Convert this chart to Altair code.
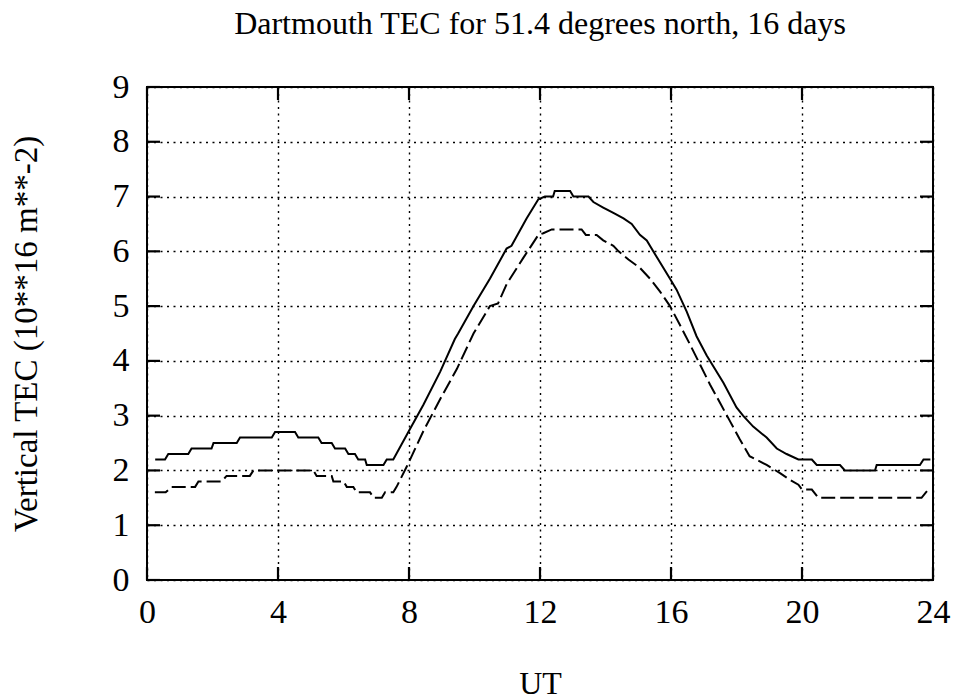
import altair as alt
import pandas as pd

# Solid curve (UT hours, TEC)
solid_ut = [0.25, 0.55, 0.65, 1.26, 1.36, 1.97, 2.03, 2.74, 2.84, 3.81, 3.91, 4.52, 4.62, 5.23,
            5.33, 5.64, 5.74, 6.05, 6.15, 6.35, 6.45, 6.66, 6.71, 7.22, 7.32, 7.52, 7.98, 8.44,
            8.95, 9.40, 9.50, 9.97, 10.47, 10.98, 11.13, 11.59, 11.95, 12.15, 12.40, 12.45, 12.92,
            13.02, 13.48, 13.63, 13.93, 14.24, 14.55, 14.80, 15.05, 15.26, 15.56, 15.97, 16.17,
            16.48, 16.78, 17.09, 17.60, 18.00, 18.20, 18.51, 18.92, 19.23, 19.53, 19.89, 20.30,
            20.45, 21.16, 21.31, 22.23, 22.28, 23.60, 23.71, 23.92]
solid_tec = [2.2, 2.2, 2.3, 2.3, 2.4, 2.4, 2.5, 2.5, 2.6, 2.6, 2.7, 2.7, 2.6, 2.6,
             2.5, 2.5, 2.4, 2.4, 2.3, 2.3, 2.2, 2.2, 2.1, 2.1, 2.2, 2.2, 2.7, 3.2,
             3.8, 4.4, 4.5, 5.0, 5.5, 6.05, 6.1, 6.6, 6.95, 7.0, 7.0, 7.1, 7.1,
             7.0, 7.0, 6.9, 6.8, 6.7, 6.6, 6.5, 6.3, 6.2, 5.9, 5.5, 5.3,
             4.9, 4.45, 4.1, 3.6, 3.15, 3.0, 2.8, 2.6, 2.4, 2.3, 2.2, 2.2,
             2.1, 2.1, 2.0, 2.0, 2.1, 2.1, 2.2, 2.2]

# Dashed curve (UT hours, TEC)
dashed_ut = [0.24, 0.57, 0.75, 1.47, 1.57, 2.28, 2.43, 3.14, 3.25, 5.08, 5.18, 5.64, 5.69, 6.00,
             6.10, 6.30, 6.40, 6.81, 6.92, 7.17, 7.27, 7.52, 7.62, 7.94, 8.44, 8.95, 9.46,
             9.97, 10.47, 10.72, 10.98, 11.49, 11.95, 12.10, 12.36, 13.27, 13.40, 13.73, 13.93,
             14.24, 14.40, 14.70, 15.05, 15.36, 15.66, 15.97, 16.27, 16.58, 16.89, 17.19, 17.50,
             17.80, 18.10, 18.40, 18.92, 19.33, 19.63, 19.89, 20.00, 20.30, 20.50, 23.65, 23.85]
dashed_tec = [1.6, 1.6, 1.7, 1.7, 1.8, 1.8, 1.9, 1.9, 2.0, 2.0, 1.9, 1.9, 1.8, 1.8,
              1.7, 1.7, 1.6, 1.6, 1.5, 1.5, 1.6, 1.6, 1.7, 2.08, 2.72, 3.3, 3.85,
              4.5, 5.0, 5.05, 5.4, 5.88, 6.3, 6.33, 6.4, 6.4, 6.3, 6.3, 6.2,
              6.1, 6.0, 5.85, 5.7, 5.5, 5.27, 5.0, 4.66, 4.3, 3.93, 3.57, 3.23,
              2.9, 2.57, 2.26, 2.1, 1.95, 1.83, 1.74, 1.65, 1.65, 1.5, 1.5, 1.65]

x_ticks = [0, 4, 8, 12, 16, 20, 24]
y_ticks = [0, 1, 2, 3, 4, 5, 6, 7, 8, 9]

W, H = 786, 493
FONT = "Liberation Serif"

solid = pd.DataFrame({"ut": solid_ut, "tec": solid_tec})
dashed = pd.DataFrame({"ut": dashed_ut, "tec": dashed_tec})
xt = pd.DataFrame({"ut": x_ticks})
yt = pd.DataFrame({"tec": y_ticks})

xscale = alt.Scale(domain=[0, 24], nice=False, zero=False)
yscale = alt.Scale(domain=[0, 9], nice=False, zero=False)

xaxis = alt.Axis(values=x_ticks, format="d", title="UT", grid=True, gridDash=[2, 4.5],
                 gridColor="black", gridWidth=1.4, gridOpacity=1, ticks=False, tickSize=0,
                 domain=False, labelFont=FONT, labelFontSize=34, labelColor="black",
                 labelPadding=15, labelFlush=False, labelOverlap=False,
                 titleFont=FONT, titleFontSize=32, titleFontWeight="normal", titleColor="black",
                 titleY=113, titleBaseline="alphabetic")
yaxis = alt.Axis(values=y_ticks, format="d", title="Vertical TEC (10**16 m**-2)", grid=True,
                 gridDash=[2, 4.5], gridColor="black", gridWidth=1.4, gridOpacity=1,
                 ticks=False, tickSize=0, domain=False, labelFont=FONT, labelFontSize=34,
                 labelColor="black", labelPadding=18, labelFlush=False, labelOverlap=False,
                 titleFont=FONT, titleFontSize=33, titleFontWeight="normal", titleColor="black",
                 titleAngle=270, titleX=-121, titleY=H / 2, titleAlign="center",
                 titleBaseline="middle")

base_solid = alt.Chart(solid).mark_line(color="black", strokeWidth=2).encode(
    x=alt.X("ut:Q", scale=xscale, axis=xaxis),
    y=alt.Y("tec:Q", scale=yscale, axis=yaxis),
)
line_dashed = alt.Chart(dashed).mark_line(color="black", strokeWidth=2, strokeDash=[14, 5]).encode(
    x=alt.X("ut:Q", scale=xscale),
    y=alt.Y("tec:Q", scale=yscale),
)

TL = 13
tick_style = dict(color="black", strokeWidth=2.2)
left_ticks = alt.Chart(yt).mark_rule(**tick_style).encode(
    y=alt.Y("tec:Q", scale=yscale), x=alt.value(0), x2=alt.value(TL))
right_ticks = alt.Chart(yt).mark_rule(**tick_style).encode(
    y=alt.Y("tec:Q", scale=yscale), x=alt.value(W - TL), x2=alt.value(W))
bottom_ticks = alt.Chart(xt).mark_rule(**tick_style).encode(
    x=alt.X("ut:Q", scale=xscale), y=alt.value(H - TL), y2=alt.value(H))
top_ticks = alt.Chart(xt).mark_rule(**tick_style).encode(
    x=alt.X("ut:Q", scale=xscale), y=alt.value(0), y2=alt.value(TL))

chart = alt.layer(base_solid, line_dashed, left_ticks, right_ticks, bottom_ticks, top_ticks).properties(
    width=W, height=H,
    autosize=alt.AutoSizeParams(type="none"),
    padding={"left": 147, "top": 87, "right": 23, "bottom": 120},
    title=alt.TitleParams("Dartmouth TEC for 51.4 degrees north, 16 days", font=FONT, fontSize=32,
                          fontWeight="normal", color="black", anchor="middle", baseline="alphabetic",
                          offset=4),
    background="white",
).configure_view(stroke="black", strokeWidth=2)

chart.save("out.html", embed_options={"renderer": "svg", "actions": False})
